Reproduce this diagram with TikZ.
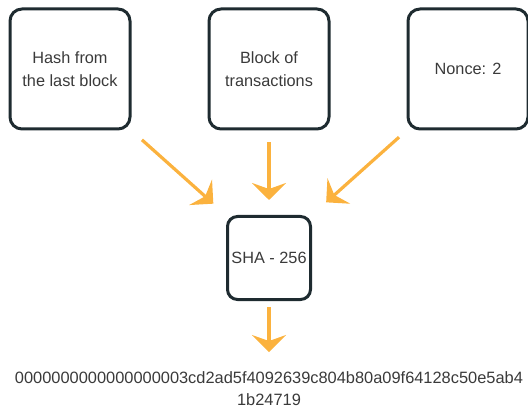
\documentclass[tikz,border=0pt]{standalone}
\usepackage{fontspec}
\setmainfont{Liberation Sans}
\usetikzlibrary{arrows.meta}

\definecolor{boxline}{HTML}{1E2B30}
\definecolor{flowcol}{HTML}{FBB23E}
\definecolor{txtcol}{HTML}{3A3A3A}

\begin{document}
\begin{tikzpicture}[->, >={Stealth[length=17pt,width=34pt,inset=6pt]}, node distance=199pt,
    inputbox/.style={draw=boxline, line width=3pt, rounded corners=12pt, minimum width=120pt,
      minimum height=120pt, align=center, text=txtcol, font=\fontsize{16.3}{23}\selectfont},
    hashbox/.style={inputbox, minimum width=83pt, minimum height=83pt, rounded corners=10pt, inner sep=1pt},
    digest/.style={align=center, inner sep=0pt, text=txtcol, font=\fontsize{16.4}{22.5}\selectfont},
    flow/.style={draw=flowcol, line width=3.2pt}]
      \useasboundingbox (0pt,0pt) rectangle (528pt,-409pt);

      \node[inputbox] (prev)  at (70pt,-69pt)  {Hash from\\the last block};
      \node[inputbox] (txs)   [right of=prev]  {Block of\\transactions};
      \node[inputbox] (nonce) [right of=txs]   {Nonce: 2};

      \node[hashbox]  (sha)   [below of=txs, node distance=189pt] {SHA - 256};
      \node[digest]   (out)   [below of=sha, node distance=130.5pt]
        {0000000000000000003cd2ad5f4092639c804b80a09f64128c50e5ab4\\1b24719};

      \path (prev.south east) edge [flow, shorten <=14pt, shorten >=17pt] (sha.north west)
            (txs.south)       edge [flow, shorten <=12pt, shorten >=15pt] (sha.north)
            (nonce.south west) edge [flow, shorten <=10pt, shorten >=19pt] (sha.north east)
            (sha.south)       edge [flow, shorten <=6pt,  shorten >=19pt] (out.north);
    \end{tikzpicture}
\end{document}
